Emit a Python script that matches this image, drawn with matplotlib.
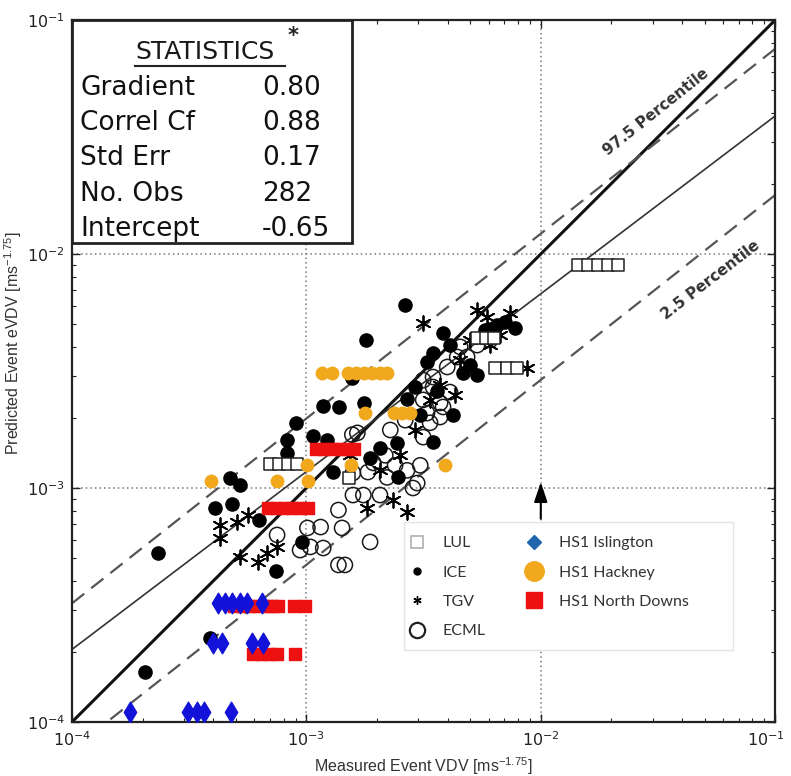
#!/usr/bin/env python3
"""
Predicted vs measured event VDV (log-log) with regression line,
percentile bands and the HS1 site data overlaid on the reference sets.
"""

import numpy as np
import matplotlib
matplotlib.use('Agg')
import matplotlib.pyplot as plt
import matplotlib.transforms as mtransforms
from matplotlib.lines import Line2D
from matplotlib.patches import Rectangle

plt.rcParams['mathtext.fontset'] = 'custom'
plt.rcParams['mathtext.rm'] = 'Liberation Sans'
plt.rcParams['mathtext.it'] = 'Liberation Sans:italic'
plt.rcParams['mathtext.bf'] = 'Liberation Sans:bold'

NARROW = ['Liberation Sans Narrow', 'Liberation Sans']

# ---- data (measured VDV, predicted eVDV) in ms^-1.75 ----
lul_x = [1.44e-2, 1.59e-2, 1.76e-2, 1.94e-2, 2.14e-2,
         6.39e-3, 7.19e-3, 7.93e-3,
         5.35e-3, 5.85e-3, 6.33e-3,
         7.00e-4, 7.65e-4, 8.36e-4, 9.13e-4, 1.52e-3]
lul_y = [8.97e-3, 8.97e-3, 8.97e-3, 8.97e-3, 8.97e-3,
         3.26e-3, 3.26e-3, 3.26e-3,
         4.38e-3, 4.38e-3, 4.38e-3,
         1.27e-3, 1.27e-3, 1.27e-3, 1.27e-3, 1.10e-3]

ice_x = [2.64e-3, 1.80e-3, 1.57e-3, 1.76e-3, 1.18e-3, 1.38e-3, 9.04e-4, 1.07e-3,
         8.27e-4, 1.23e-3, 8.27e-4, 4.72e-4, 5.21e-4, 1.30e-3, 4.08e-4, 4.82e-4,
         6.28e-4, 2.33e-4, 9.58e-4, 7.43e-4, 3.88e-4, 2.05e-4, 2.06e-3, 2.44e-3,
         2.46e-3, 1.87e-3, 3.47e-3, 3.83e-3, 3.27e-3, 4.67e-3, 4.23e-3, 3.47e-3,
         3.06e-3, 6.52e-3, 7.05e-3, 5.35e-3, 6.00e-3, 2.90e-3, 2.70e-3, 3.60e-3,
         4.10e-3, 5.00e-3, 5.79e-3, 7.78e-3]
ice_y = [6.05e-3, 4.29e-3, 2.95e-3, 2.31e-3, 2.24e-3, 2.22e-3, 1.90e-3, 1.67e-3,
         1.60e-3, 1.60e-3, 1.41e-3, 1.10e-3, 1.03e-3, 1.17e-3, 8.21e-4, 8.54e-4,
         7.30e-4, 5.28e-4, 5.88e-4, 4.42e-4, 2.29e-4, 1.64e-4, 1.48e-3, 1.56e-3,
         1.11e-3, 1.34e-3, 3.78e-3, 4.60e-3, 3.46e-3, 3.10e-3, 2.05e-3, 1.57e-3,
         2.05e-3, 4.97e-3, 5.12e-3, 3.05e-3, 4.80e-3, 2.70e-3, 2.40e-3, 2.60e-3,
         4.08e-3, 3.35e-3, 4.73e-3, 4.83e-3]

tgv_x = [3.15e-3, 5.35e-3, 7.40e-3, 8.75e-3, 4.28e-4, 5.06e-4, 5.64e-4, 4.28e-4,
         5.21e-4, 6.22e-4, 6.80e-4, 7.50e-4, 1.82e-3, 2.34e-3, 2.69e-3, 2.06e-3,
         4.31e-3, 5.00e-3, 6.08e-3, 3.72e-3, 2.51e-3, 2.91e-3, 4.53e-3, 6.71e-3,
         3.37e-3, 1.54e-3, 5.90e-3]
tgv_y = [5.07e-3, 5.76e-3, 5.60e-3, 3.26e-3, 6.95e-4, 7.15e-4, 7.67e-4, 6.11e-4,
         5.07e-4, 4.83e-4, 5.28e-4, 5.60e-4, 8.21e-4, 8.89e-4, 7.90e-4, 1.19e-3,
         2.50e-3, 4.29e-3, 4.08e-3, 2.76e-3, 1.38e-3, 1.77e-3, 3.52e-3, 4.51e-3,
         2.38e-3, 1.38e-3, 5.40e-3]

ecml_x = [1.37e-3, 1.15e-3, 1.01e-3, 1.42e-3, 1.87e-3, 1.18e-3, 1.04e-3, 9.40e-4,
          1.37e-3, 1.46e-3, 7.50e-4, 1.57e-3, 1.58e-3, 1.83e-3, 2.06e-3, 1.75e-3,
          1.58e-3, 2.97e-3, 1.65e-3, 1.93e-3, 2.21e-3, 2.69e-3, 2.85e-3, 3.15e-3,
          2.28e-3, 3.15e-3, 3.47e-3, 3.15e-3, 3.72e-3, 4.10e-3, 3.72e-3, 4.53e-3,
          4.85e-3, 4.40e-3, 3.99e-3, 3.47e-3, 3.27e-3, 3.37e-3, 3.83e-3, 2.39e-3,
          5.35e-3, 6.08e-3, 2.64e-3, 2.17e-3, 3.06e-3]
ecml_y = [8.05e-4, 6.81e-4, 6.75e-4, 6.75e-4, 5.88e-4, 5.54e-4, 5.60e-4, 5.43e-4,
          4.69e-4, 4.69e-4, 6.30e-4, 1.69e-3, 1.16e-3, 1.17e-3, 9.33e-4, 9.33e-4,
          9.33e-4, 1.05e-3, 1.72e-3, 1.28e-3, 1.11e-3, 1.19e-3, 1.00e-3, 1.65e-3,
          1.77e-3, 2.89e-3, 2.70e-3, 2.38e-3, 2.31e-3, 2.57e-3, 2.01e-3, 4.01e-3,
          3.63e-3, 3.63e-3, 3.29e-3, 2.98e-3, 2.09e-3, 1.90e-3, 2.22e-3, 1.25e-3,
          4.08e-3, 4.29e-3, 1.95e-3, 1.38e-3, 1.25e-3]

islington_x = [1.77e-4, 3.13e-4, 3.42e-4, 3.66e-4, 4.77e-4,
               4.20e-4, 4.50e-4, 4.82e-4, 5.21e-4, 5.58e-4, 6.47e-4,
               4.00e-4, 4.37e-4, 5.86e-4, 6.53e-4]
islington_y = [1.10e-4, 1.10e-4, 1.10e-4, 1.10e-4, 1.10e-4,
               3.22e-4, 3.22e-4, 3.22e-4, 3.22e-4, 3.22e-4, 3.22e-4,
               2.18e-4, 2.18e-4, 2.18e-4, 2.18e-4]

hackney_x = [1.17e-3, 1.29e-3, 1.51e-3, 1.63e-3, 1.76e-3, 1.91e-3, 2.06e-3, 2.21e-3,
             1.78e-3, 2.37e-3, 2.56e-3, 2.77e-3,
             1.01e-3, 1.55e-3, 3.91e-3,
             3.92e-4, 7.50e-4, 1.02e-3]
hackney_y = [3.10e-3, 3.10e-3, 3.10e-3, 3.10e-3, 3.10e-3, 3.10e-3, 3.10e-3, 3.10e-3,
             2.09e-3, 2.09e-3, 2.09e-3, 2.09e-3,
             1.25e-3, 1.25e-3, 1.25e-3,
             1.07e-3, 1.07e-3, 1.07e-3]

downs_x = [1.10e-3, 1.19e-3, 1.29e-3, 1.39e-3, 1.51e-3, 1.60e-3,
           6.86e-4, 7.43e-4, 8.03e-4, 8.69e-4, 9.40e-4, 1.02e-3,
           4.91e-4, 5.32e-4, 5.75e-4, 6.22e-4, 6.73e-4, 7.14e-4, 7.57e-4, 8.86e-4, 9.87e-4,
           5.92e-4, 6.41e-4, 6.93e-4, 7.50e-4, 8.95e-4]
downs_y = [1.47e-3] * 6 + [8.21e-4] * 6 + [3.13e-4] * 9 + [1.95e-4] * 5

# regression (log10 space) and percentile bands
fit_slope, fit_icept = 0.76, -0.65
band_slope = 0.79
upper_icept, lower_icept = -0.333, -0.958

stat_names = ['Gradient', 'Correl Cf', 'Std Err', 'No. Obs', 'Intercept']
stat_values = ['0.80', '0.88', '0.17', '282', '-0.65']

ORANGE = '#f2a81d'
RED = '#ee1111'
BLUE = '#1212d8'


def draw_lines(ax):
    xs = np.array([1e-4, 1e-1])
    ax.plot(xs, xs, color='#111111', lw=2.2, zorder=2)
    ax.plot(xs, 10 ** (fit_icept + fit_slope * np.log10(xs)),
            color='#333333', lw=1.2, zorder=2)
    for b in (upper_icept, lower_icept):
        ax.plot(xs, 10 ** (b + band_slope * np.log10(xs)),
                color='#555555', lw=1.6, ls=(0, (7, 4)), zorder=2)


def draw_stats(ax):
    ax.add_patch(Rectangle((0.0, 0.682), 0.398, 0.318, transform=ax.transAxes,
                           facecolor='white', edgecolor='#222222', lw=2, zorder=6))
    ax.text(0.189, 0.955, 'STATISTICS', transform=ax.transAxes, ha='center',
            va='center', fontsize=18, color='#1a1a1a', zorder=7)
    ax.plot([0.09, 0.303], [0.935, 0.935], transform=ax.transAxes,
            color='#222222', lw=1.5, zorder=7)
    ax.text(0.315, 0.977, '*', transform=ax.transAxes, ha='center', va='center',
            fontsize=15, fontweight='bold', color='#222222', zorder=7)
    rows_y = [0.903, 0.853, 0.803, 0.752, 0.702]
    for name, val, y in zip(stat_names, stat_values, rows_y):
        ax.text(0.012, y, name, transform=ax.transAxes, va='center',
                fontsize=19, color='#111111', zorder=7)
        ax.text(0.270, y, val, transform=ax.transAxes, va='center',
                fontsize=19, color='#111111', zorder=7)


def draw_legend(ax):
    ax.add_patch(Rectangle((0.472, 0.1026), 0.468, 0.1824, transform=ax.transAxes,
                           facecolor='white', edgecolor='#e4e4e4', lw=1, zorder=8))
    handles = [
        Line2D([], [], ls='none', marker='s', ms=9, mfc='white', mec='#b0b0b0', mew=1.2),
        Line2D([], [], ls='none', marker='o', ms=5, color='black'),
        Line2D([], [], ls='none', marker=(6, 2, 0), ms=6, color='black', mew=1),
        Line2D([], [], ls='none', marker='o', ms=11, mfc='none', mec='#222222', mew=1.6),
        Line2D([], [], ls='none', marker='D', ms=7, color='#2066ae'),
        Line2D([], [], ls='none', marker='o', ms=14, color=ORANGE),
        Line2D([], [], ls='none', marker='s', ms=12, color=RED),
    ]
    labels = ['LUL', 'ICE', 'TGV', 'ECML', 'HS1 Islington', 'HS1 Hackney',
              'HS1 North Downs']
    leg = ax.legend(handles, labels, ncol=2, loc='upper left',
                    bbox_to_anchor=(0.461, 0.283), frameon=False,
                    prop={'family': 'Lato', 'size': 11.5},
                    labelspacing=0.95, handlelength=1.0, handletextpad=1.1,
                    columnspacing=2.5, borderpad=0.3)
    leg.set_zorder(9)
    for t in leg.get_texts():
        t.set_color('#333333')


def main():
    fig = plt.figure(figsize=(7.91, 7.76), dpi=100)
    ax = fig.add_axes([0.091, 0.0696, 0.889, 0.9046])
    ax.set_xscale('log')
    ax.set_yscale('log')
    ax.set_xlim(1e-4, 1e-1)
    ax.set_ylim(1e-4, 1e-1)

    # dotted grid at the inner decades
    for v in (1e-3, 1e-2):
        ax.axvline(v, color='#777777', lw=1.1, ls=(0, (1, 2)), zorder=1)
        ax.axhline(v, color='#777777', lw=1.1, ls=(0, (1, 2)), zorder=1)

    draw_lines(ax)

    ax.scatter(ecml_x, ecml_y, s=120, facecolors='none', edgecolors='#1a1a1a',
               linewidths=1.1, zorder=3)
    ax.scatter(ice_x, ice_y, s=90, color='black', zorder=3)
    ax.scatter(tgv_x, tgv_y, s=110, marker=(6, 2, 0), color='black',
               linewidths=1.3, zorder=3)
    ax.scatter(lul_x, lul_y, s=80, marker='s', facecolors='white',
               edgecolors='#222222', linewidths=1.1, zorder=4)
    ax.scatter(hackney_x, hackney_y, s=80, color=ORANGE, zorder=5)
    ax.scatter(downs_x, downs_y, s=85, marker='s', color=RED, zorder=5)
    ax.scatter(islington_x, islington_y, s=110, marker='d', color=BLUE, zorder=5)

    ax.annotate('', xy=(1e-2, 1.09e-3), xytext=(1e-2, 7.2e-4),
                arrowprops=dict(arrowstyle='-|>,head_length=1.2,head_width=0.4',
                                color='black', lw=1.5), zorder=7)

    ax.text(3.11e-2, 4.05e-2, '97.5 Percentile', rotation=38.5, ha='center',
            va='center', fontsize=11, fontweight='bold', color='#333333')
    ax.text(5.28e-2, 7.74e-3, '2.5 Percentile', rotation=37.5, ha='center',
            va='center', fontsize=11, fontweight='bold', color='#333333')

    draw_stats(ax)
    draw_legend(ax)

    ax.tick_params(which='both', direction='in', top=True, right=True,
                   labelsize=11.5, colors='#222222')
    ax.tick_params(which='major', length=6, width=1)
    ax.tick_params(which='minor', length=3, width=0.8)
    ax.tick_params(axis='y', pad=5)
    ax.tick_params(axis='x', pad=6)
    for sp in ax.spines.values():
        sp.set_linewidth(1.6)
        sp.set_color('#222222')

    # keep the last x tick label inside the figure
    fig.canvas.draw()
    last = [t for t in ax.get_xticklabels() if t.get_position()[0] == 1e-1]
    for t in last:
        t.set_transform(t.get_transform() + mtransforms.ScaledTranslation(
            -7 / 72, 0, fig.dpi_scale_trans))

    ax.set_xlabel('Measured Event VDV [ms$^{-1.75}$]', fontsize=11.5,
                  family=NARROW, color='#333333')
    ax.set_ylabel('Predicted Event eVDV [ms$^{-1.75}$]', fontsize=11.5,
                  family=NARROW, color='#333333')
    ax.xaxis.set_label_coords(0.5, -0.048)
    ax.yaxis.set_label_coords(-0.068, 0.54)

    fig.savefig('out.png', dpi=100)
    plt.close(fig)


if __name__ == '__main__':
    main()
